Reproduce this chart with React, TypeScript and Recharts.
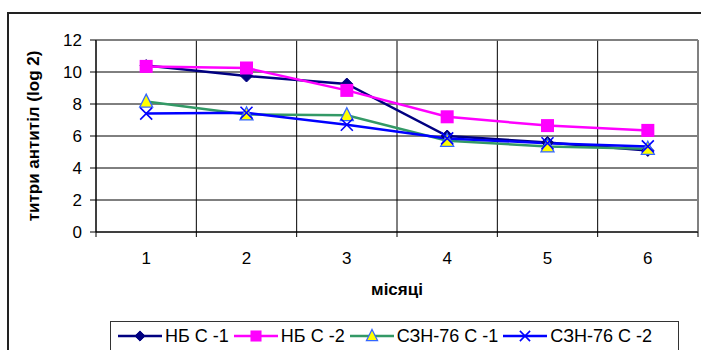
import React from 'react';
import { LineChart, Line, XAxis, YAxis, CartesianGrid, Legend, ReferenceLine } from 'recharts';

const months = [1, 2, 3, 4, 5, 6];
const nbC1 = [10.4, 9.75, 9.25, 6.0, 5.6, 5.1];
const nbC2 = [10.35, 10.25, 8.85, 7.2, 6.65, 6.35];
const sznC1 = [8.15, 7.35, 7.3, 5.7, 5.35, 5.2];
const sznC2 = [7.4, 7.45, 6.7, 5.85, 5.55, 5.35];
const seriesNames = ['НБ С -1', 'НБ С -2', 'СЗН-76 С -1', 'СЗН-76 С -2'];
const yTicks = [0, 2, 4, 6, 8, 10, 12];
const xBoundaries = [...months.map((m) => m - 0.5), months[months.length - 1] + 0.5];
const yTitle = 'титри антитіл (log 2)';
const xTitle = 'місяці';

const FONT = '"Liberation Sans", Arial, sans-serif';
const W = 701;
const H = 350;
const MARGIN = { top: 40, right: 3, bottom: 88, left: 0 };
const Y_AXIS_W = 96;
const CAT_W = (W - MARGIN.left - MARGIN.right - Y_AXIS_W) / months.length;

const data = months.map((m, i) => ({
  m,
  nb1: nbC1[i],
  nb2: nbC2[i],
  szn1: sznC1[i],
  szn2: sznC2[i],
}));

const series = [
  { key: 'nb1', name: seriesNames[0], color: '#000080', marker: 'diamond' },
  { key: 'nb2', name: seriesNames[1], color: '#FF00FF', marker: 'square' },
  { key: 'szn1', name: seriesNames[2], color: '#339966', marker: 'triangle' },
  { key: 'szn2', name: seriesNames[3], color: '#0000FF', marker: 'cross' },
];

function Marker({ type, cx, cy, s = 1 }: { type: string; cx: number; cy: number; s?: number }) {
  if (type === 'diamond') {
    const r = 6 * s;
    return <polygon points={`${cx},${cy - r} ${cx + r},${cy} ${cx},${cy + r} ${cx - r},${cy}`} fill="#000080" stroke="#000080" strokeWidth={1} />;
  }
  if (type === 'square') {
    const r = 6.5 * s;
    return <rect x={cx - r} y={cy - r} width={2 * r} height={2 * r} fill="#FF00FF" />;
  }
  if (type === 'triangle') {
    const r = 6.5 * s;
    return (
      <polygon
        points={`${cx},${cy - r - 1} ${cx + r},${cy + r - 1} ${cx - r},${cy + r - 1}`}
        fill="#FFFF00"
        stroke="#3366FF"
        strokeWidth={1.3}
      />
    );
  }
  const r = 6 * s;
  return (
    <g stroke="#0000FF" strokeWidth={1.6}>
      <line x1={cx - r} y1={cy - r} x2={cx + r} y2={cy + r} />
      <line x1={cx - r} y1={cy + r} x2={cx + r} y2={cy - r} />
    </g>
  );
}

const makeDot = (type: string) => (props: any) => {
  const { cx, cy, index } = props;
  return (
    <g key={`${type}-${index}`}>
      <Marker type={type} cx={cx} cy={cy} />
    </g>
  );
};

const XTick = (props: any) => {
  const { x, y, payload } = props;
  const v = payload.value + 0.5;
  if (v > months[months.length - 1]) return <g />;
  return (
    <text x={x + CAT_W / 2} y={y + 25} textAnchor="middle" fontSize={17} fontFamily={FONT} fill="#000">
      {v}
    </text>
  );
};

const YLabel = (props: any) => {
  const vb = props.viewBox;
  const cx = vb.x + 39;
  const cy = vb.y + vb.height / 2;
  return (
    <text
      x={cx}
      y={cy}
      transform={`rotate(-90, ${cx}, ${cy})`}
      textAnchor="middle"
      fontSize={17}
      fontWeight="bold"
      fontFamily={FONT}
      fill="#000"
    >
      {yTitle}
    </text>
  );
};

const XLabel = (props: any) => {
  const vb = props.viewBox;
  return (
    <text
      x={vb.x + vb.width / 2}
      y={vb.y + 63}
      textAnchor="middle"
      fontSize={17}
      fontWeight="bold"
      fontFamily={FONT}
      fill="#000"
    >
      {xTitle}
    </text>
  );
};

const LegendContent = (props: any) => {
  const payload = props.payload || [];
  return (
    <div
      style={{
        border: '1px solid #333',
        boxSizing: 'border-box',
        width: '100%',
        height: '100%',
        display: 'flex',
        alignItems: 'flex-start',
        paddingLeft: 7,
        paddingTop: 4,
        fontFamily: FONT,
        fontSize: 18,
        color: '#000',
        whiteSpace: 'nowrap',
      }}
    >
      {payload.map((p: any) => {
        const s = series.find((ss) => ss.key === p.dataKey) || series[0];
        return (
          <div key={s.key} style={{ display: 'flex', alignItems: 'center', marginRight: 5 }}>
            <svg width={44} height={18} style={{ marginRight: 3 }}>
              <line x1={0} y1={9} x2={44} y2={9} stroke={s.color} strokeWidth={2.5} />
              <Marker type={s.marker} cx={22} cy={9} s={0.85} />
            </svg>
            <span style={{ lineHeight: '20px' }}>{s.name}</span>
          </div>
        );
      })}
    </div>
  );
};

export default function App() {
  return (
    <div style={{ position: 'absolute', left: 0, top: 0, width: W, height: H, overflow: 'hidden', background: '#fff' }}>
      <div
        style={{
          position: 'absolute',
          left: 7,
          top: 12,
          width: 760,
          height: 420,
          border: '2px solid #222',
          boxSizing: 'border-box',
        }}
      />
      <div style={{ position: 'absolute', left: 0, top: 0 }}>
        <LineChart width={W} height={H} data={data} margin={MARGIN}>
          <CartesianGrid stroke="#000" strokeWidth={1} />
          <XAxis
            dataKey="m"
            type="number"
            domain={[xBoundaries[0], xBoundaries[xBoundaries.length - 1]]}
            ticks={xBoundaries}
            interval={0}
            height={30}
            tickSize={5}
            tickMargin={2}
            stroke="#000"
            tick={<XTick />}
            label={<XLabel />}
          />
          <YAxis
            type="number"
            domain={[0, 12]}
            ticks={yTicks}
            interval={0}
            width={Y_AXIS_W}
            tickSize={6}
            tickMargin={8}
            stroke="#000"
            tick={{ fontSize: 17, fontFamily: FONT, fill: '#000' }}
            label={<YLabel />}
          />
          <ReferenceLine y={12} stroke="#808080" strokeWidth={1.5} />
          <ReferenceLine x={xBoundaries[xBoundaries.length - 1]} stroke="#808080" strokeWidth={2} />
          <Legend
            verticalAlign="middle"
            align="center"
            layout="horizontal"
            content={<LegendContent />}
            wrapperStyle={{ position: 'absolute', left: 110, top: 321, width: 569, height: 40 }}
          />
          {series.map((s) => (
            <Line
              key={s.key}
              type="linear"
              dataKey={s.key}
              name={s.name}
              stroke={s.color}
              strokeWidth={2.5}
              dot={makeDot(s.marker)}
              activeDot={false}
              isAnimationActive={false}
            />
          ))}
        </LineChart>
      </div>
    </div>
  );
}
